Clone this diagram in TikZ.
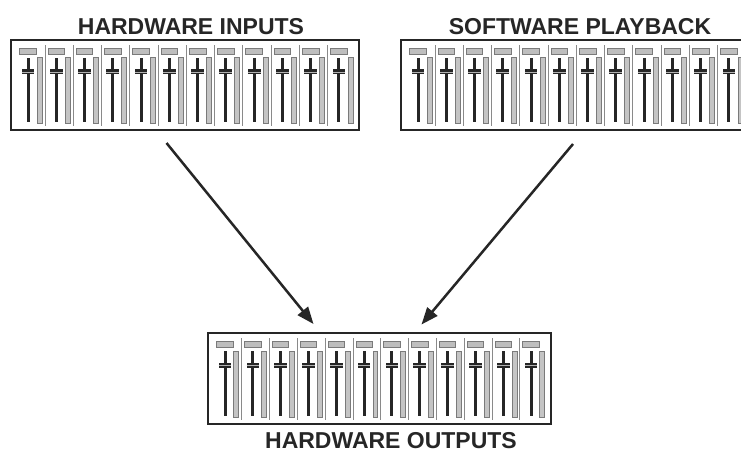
\documentclass[tikz,border=0pt]{standalone}
\usepackage{fontspec}
\setmainfont{Liberation Sans}
\usetikzlibrary{arrows.meta}
\definecolor{ink}{HTML}{262626}
\definecolor{capfill}{HTML}{BEBEBE}
\definecolor{capline}{HTML}{7A7A7A}
\definecolor{meterfill}{HTML}{C4C4C4}
\definecolor{sepline}{HTML}{8A8A8A}
\tikzset{
  frame/.style={draw=ink, line width=2.2pt, minimum width=348pt, minimum height=90pt,
    inner sep=0pt, outer sep=0pt, anchor=north west},
  title/.style={font=\fontsize{23}{23}\selectfont\bfseries, text=ink, anchor=base, inner sep=0pt},
  link/.style={draw=ink, line width=2.5pt, -{Triangle[length=17pt,width=13pt]}},
  capbox/.style={fill=capfill, draw=capline, line width=0.8pt},
  meterbar/.style={fill=meterfill, draw=capline, line width=0.8pt},
  faderline/.style={draw=ink, line width=3pt},
  knob/.style={fill=ink, draw=none},
  sep/.style={draw=sepline, line width=0.9pt},
  strips/.pic={
    \foreach \i in {0,...,11}{
      \pgfmathsetmacro{\f}{17+28.27*\i}
      \path[capbox] (\f-8.3,-8.3) rectangle (\f+8.3,-14);
      \path[meterbar] (\f+9,-17.7) rectangle (\f+14,-83);
      \path[faderline] (\f,-18) -- (\f,-82);
      \path[knob] (\f-6.4,-29.2) rectangle (\f+6.4,-34.4);
      \draw[gray!60, line width=0.5pt] (\f-6.4,-31.8) -- (\f+6.4,-31.8);
      \ifnum\i<11 \path[sep] (\f+17,-5) -- (\f+17,-86); \fi
    }
  }
}
\begin{document}
\begin{tikzpicture}[x=1pt,y=1pt]
\clip (0,0) rectangle (741,-453);
\fill[white] (0,0) rectangle (741,-453);

% boxes
\node[frame] (hwin) at (11,-40) {};
\pic at (hwin.north west) {strips};
\node[frame] (swpb) at (401,-40) {};
\pic at (swpb.north west) {strips};
\node[frame, minimum width=342.4pt, minimum height=91pt] (hwout) at (208.3,-333.3) {};
\pic[xscale=0.984, yscale=1.01] at (hwout.north west) {strips};

% titles
\node[title] (t1) at (191,-34) {HARDWARE INPUTS};
\node[title] (t2) at (580,-34) {SOFTWARE PLAYBACK};
\node[title] (t3) at (391,-448) {HARDWARE OUTPUTS};

% connectors
\coordinate (a1s) at (166.5,-143);
\coordinate (a1e) at (313.5,-324);
\coordinate (a2s) at (573,-144);
\coordinate (a2e) at (421.5,-324.5);
\draw[link] (a1s) -- (a1e);
\draw[link] (a2s) -- (a2e);
\end{tikzpicture}
\end{document}
